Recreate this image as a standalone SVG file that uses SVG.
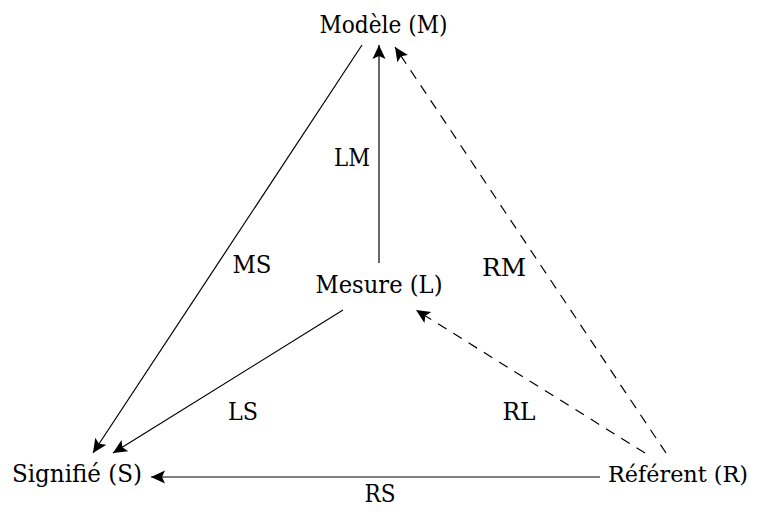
<svg xmlns="http://www.w3.org/2000/svg" width="757" height="514" viewBox="0 0 757 514">
<style>
.t{font-family:'DejaVu Serif',serif;font-size:24px;fill:#000}
.n{text-anchor:middle}
.c{stroke:#000;stroke-width:1.2;fill:none}
.d{stroke-dasharray:10 8}
</style>
<defs>
<marker id="ah" markerUnits="userSpaceOnUse" markerWidth="16" markerHeight="14" refX="14" refY="7" orient="auto" viewBox="0 0 16 14">
<path d="M0,0.5 L14,7 L0,13.5 L3,7 Z" fill="#000"/>
</marker>
</defs>
<rect width="757" height="514" fill="#fff"/>
<g id="connectors">
<line id="LM" class="c" x1="379" y1="263" x2="379" y2="45" marker-end="url(#ah)"/>
<line id="MS" class="c" x1="362" y1="45" x2="93" y2="453" marker-end="url(#ah)"/>
<line id="LS" class="c" x1="343" y1="310" x2="113" y2="453" marker-end="url(#ah)"/>
<line id="RS" class="c" x1="600" y1="477" x2="151" y2="477" marker-end="url(#ah)"/>
<line id="RL" class="c d" x1="645" y1="453" x2="416" y2="310" marker-end="url(#ah)"/>
<line id="RM" class="c d" x1="666" y1="453" x2="395" y2="47" marker-end="url(#ah)"/>
</g>
<g id="labels">
<text class="t n" x="352" y="166" textLength="36" lengthAdjust="spacingAndGlyphs">LM</text>
<text class="t n" x="252" y="273" textLength="39" lengthAdjust="spacingAndGlyphs">MS</text>
<text class="t n" x="243" y="420" textLength="30" lengthAdjust="spacingAndGlyphs">LS</text>
<text class="t n" x="380" y="502" textLength="31" lengthAdjust="spacingAndGlyphs">RS</text>
<text class="t n" x="519" y="420" textLength="33" lengthAdjust="spacingAndGlyphs">RL</text>
<text class="t n" x="504" y="276" textLength="44" lengthAdjust="spacingAndGlyphs">RM</text>
</g>
<g id="M"><text class="t n" x="383.5" y="33" textLength="128" lengthAdjust="spacingAndGlyphs">Modèle (M)</text></g>
<g id="L"><text class="t n" x="379" y="293" textLength="127" lengthAdjust="spacingAndGlyphs">Mesure (L)</text></g>
<g id="S"><text class="t n" x="77" y="482" textLength="130" lengthAdjust="spacingAndGlyphs">Signifié (S)</text></g>
<g id="R"><text class="t n" x="678" y="482" style="font-size:22.5px" textLength="140" lengthAdjust="spacingAndGlyphs">Référent (R)</text></g>
</svg>
